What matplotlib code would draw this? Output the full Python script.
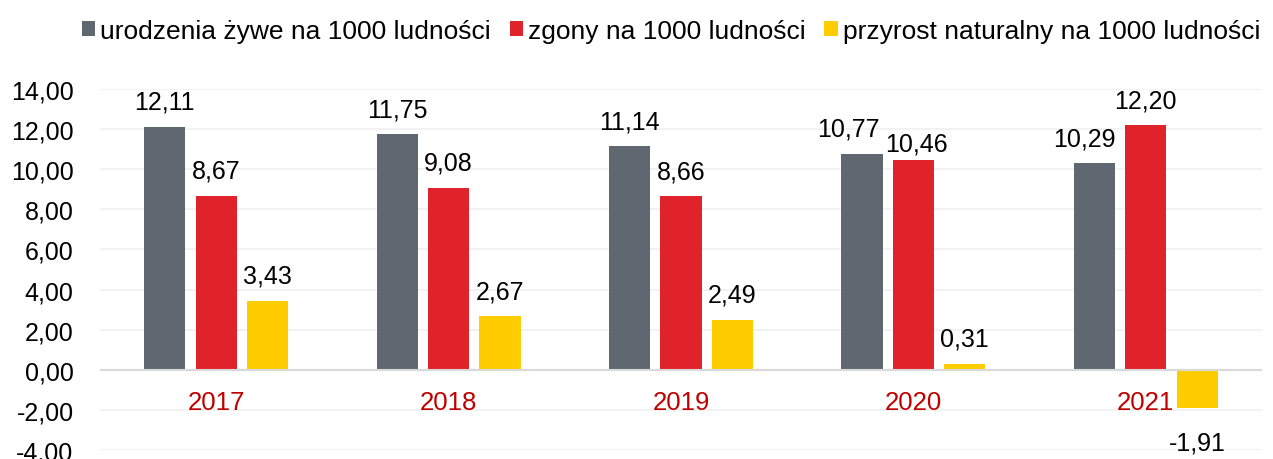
import numpy as np
import matplotlib
matplotlib.use('Agg')
import matplotlib.pyplot as plt
from matplotlib.patches import Patch

plt.rcParams['font.family'] = ['Liberation Sans', 'DejaVu Sans']

years = ["2017", "2018", "2019", "2020", "2021"]
urodzenia = [12.11, 11.75, 11.14, 10.77, 10.29]
zgony = [8.67, 9.08, 8.66, 10.46, 12.20]
przyrost = [3.43, 2.67, 2.49, 0.31, -1.91]

series = [
    ("urodzenia żywe na 1000 ludności", urodzenia, "#5F6870"),
    ("zgony na 1000 ludności", zgony, "#E0222A"),
    ("przyrost naturalny na 1000 ludności", przyrost, "#FFCC00"),
]

# label nudges (series index, year index) -> (dx, dy) in points, to avoid overlaps
nudge = {(0, 3): (-10, 0), (1, 3): (2, -6.5), (0, 4): (-7, 0)}

fs = 18

fig = plt.figure(figsize=(12.73, 4.60), dpi=100)
ax = fig.add_axes([100 / 1273, 9 / 460, 1162 / 1273, 361 / 460])

x = np.arange(len(years))
width = 0.177
step = 0.221

for i, (name, vals, col) in enumerate(series):
    pos = x + (i - 1) * step
    ax.bar(pos, vals, width=width, color=col, zorder=3)
    for j, (p, v) in enumerate(zip(pos, vals)):
        txt = ("%.2f" % v).replace(".", ",")
        dx, dy = nudge.get((i, j), (0, 0))
        if v >= 0:
            ax.annotate(txt, (p, v), xytext=(dx, 13 + dy), textcoords="offset points",
                        ha="center", va="baseline", fontsize=fs)
        else:
            ax.annotate(txt, (p, v), xytext=(dx, -29.5 + dy), textcoords="offset points",
                        ha="center", va="baseline", fontsize=fs)

ax.set_xlim(-0.5, len(years) - 0.5)
ax.set_ylim(-4, 14)
yt = np.arange(-4, 15, 2)
ax.set_yticks(yt)
ax.set_yticklabels([("%.2f" % t).replace(".", ",") for t in yt], fontsize=fs)
ax.tick_params(axis="y", length=0, pad=19)
ax.set_xticks([])
for i, yr in enumerate(years):
    ax.text(i, -1.95, yr, ha="center", va="baseline", color="#C00000", fontsize=18.5)

ax.grid(axis="y", color="#F0F0F0", linewidth=1.2, zorder=0)
ax.axhline(0, color="#D9D9D9", linewidth=1.5, zorder=4)
for s in ax.spines.values():
    s.set_visible(False)

handles = [Patch(facecolor=c, label=n) for n, _, c in series]
fig.legend(handles=handles, loc="center", bbox_to_anchor=(0.527, 1 - 32 / 460), ncol=3,
           frameon=False, fontsize=19, handlelength=0.5, handleheight=0.5,
           handletextpad=0.19, columnspacing=0.72, borderpad=0)

fig.savefig("out.png", dpi=100)
